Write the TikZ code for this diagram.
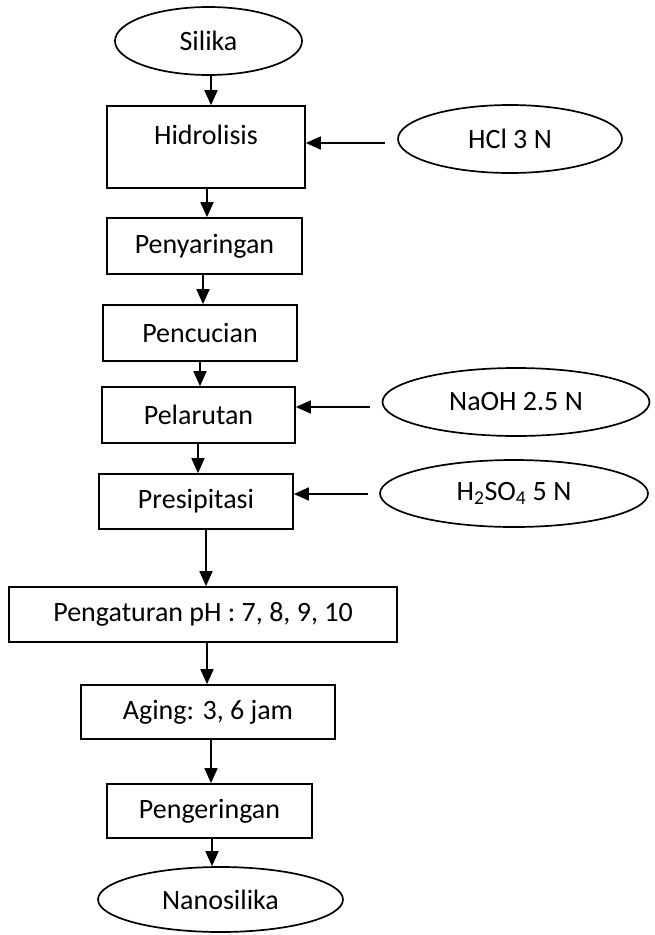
\documentclass[tikz,border=0pt]{standalone}
\usepackage{fontspec}
\setmainfont{Carlito}
\usepackage{tikz}
\usetikzlibrary{positioning,shapes.geometric,arrows.meta}
\tikzset{
  procbox/.style={
    draw,
    rectangle,
    inner sep=0pt,
    line width=1.7pt,
    font=\fontsize{28}{33}\selectfont,
  },
  feed/.style={
    draw,
    ellipse,
    inner sep=0pt,
    line width=1.7pt,
    font=\fontsize{28}{33}\selectfont,
  },
  flow/.style={line width=1.7pt, -{Triangle[length=15pt,width=13pt]}},
}

\begin{document}
\begin{tikzpicture}[x=1pt,y=-1pt]
  \useasboundingbox (0,0) rectangle (654,935);
  \node[feed, minimum width=187pt, minimum height=68pt] (sil) at (208.5,41) {Silika};
  \node[procbox, minimum width=198pt, minimum height=82pt, text depth=24pt] (hid) at (206,147) {Hidrolisis};
  \node[procbox, minimum width=195pt, minimum height=56pt] (pys) at (204.5,246) {Penyaringan};
  \node[procbox, minimum width=194pt, minimum height=56pt] (cuc) at (200,333) {Pencucian};
  \node[procbox, minimum width=193pt, minimum height=56pt] (lar) at (198.5,415) {Pelarutan};
  \node[procbox, minimum width=194pt, minimum height=55pt] (pre) at (196,501.5) {Presipitasi};
  \node[procbox, minimum width=388pt, minimum height=55pt] (ph) at (203,614.5) {Pengaturan pH : 7, 8, 9, 10};
  \node[procbox, minimum width=254pt, minimum height=54pt] (age) at (208,712) {Aging: 3, 6 jam};
  \node[procbox, minimum width=205pt, minimum height=54pt] (ker) at (209.5,811) {Pengeringan};
  \node[feed, minimum width=245pt, minimum height=65pt] (nano) at (220.5,899.5) {Nanosilika};

  \node[feed, minimum width=224pt, minimum height=68pt] (hcl) at (510,139) {HCl 3 N};
  \node[feed, minimum width=267pt, minimum height=68pt] (naoh) at (516,402) {NaOH 2.5 N};
  \node[feed, minimum width=268pt, minimum height=67pt] (acid) at (514,493.5) {H\textsubscript{2}SO\textsubscript{4} 5 N};

  \foreach \a/\b/\x in {sil/hid/211, hid/pys/207, pys/cuc/203, cuc/lar/200, lar/pre/198,
                        pre/ph/206, ph/age/207, age/ker/211, ker/nano/212} {
    \draw[flow] (\a.south -| \x,0) -- (\b.north -| \x,0);
  }

  \coordinate (hclin) at (385,143);
  \coordinate (naohin) at (370,407);
  \coordinate (acidin) at (368,494);
  \draw[flow] (hclin) -- (hclin -| hid.east);
  \draw[flow] (naohin) -- (naohin -| lar.east);
  \draw[flow] (acidin) -- (acidin -| pre.east);
\end{tikzpicture}
\end{document}
